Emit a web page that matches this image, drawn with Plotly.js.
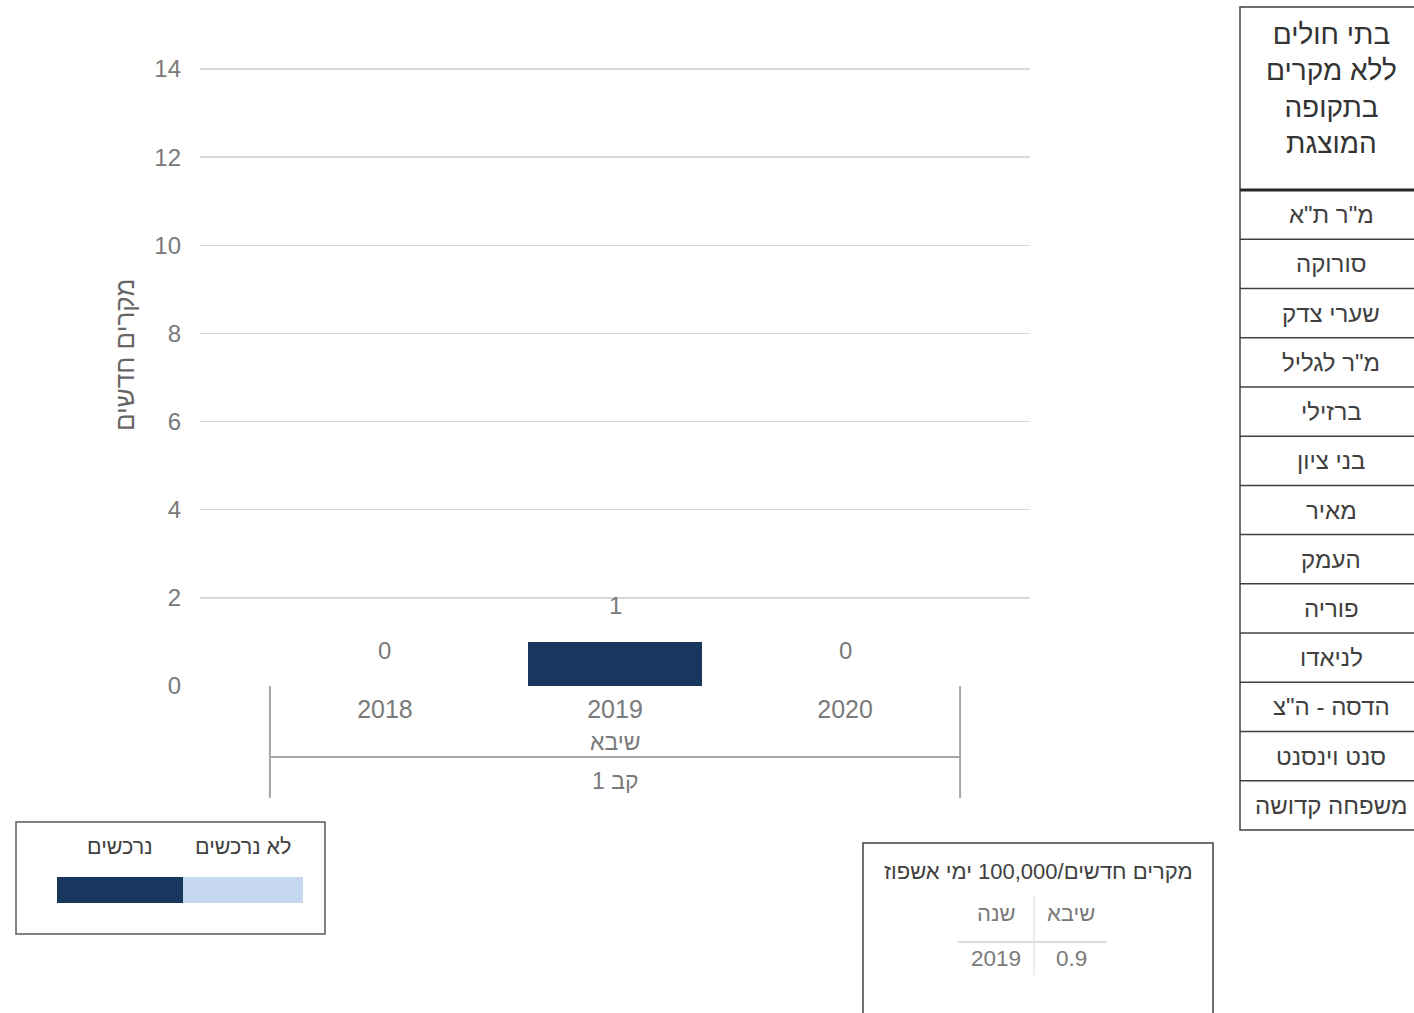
<!DOCTYPE html>
<html>
<head>
<meta charset="utf-8">
<script src="https://cdn.plot.ly/plotly-3.0.1.min.js"></script>
<style>
html,body{margin:0;padding:0;background:#fff;}
#chart{width:1414px;height:1013px;}
</style>
</head>
<body>
<div id="chart"></div>
<script>
// ---------- data ----------
const years = ['2018', '2019', '2020'];
const purchased = [0, 1, 0];          // נרכשים
const notPurchased = [0, 0, 0];       // לא נרכשים
const seriesNames = ['נרכשים', 'לא נרכשים'];
const seriesColors = ['#17375e', '#c6d9f1'];
const hospitalGroup = 'שיבא';
const outerGroup = 'קב 1';
const yTickValues = [0, 2, 4, 6, 8, 10, 12, 14];
const yTitle = 'מקרים חדשים';

const noCaseHeader = ['בתי חולים', 'ללא מקרים', 'בתקופה', 'המוצגת'];
const noCaseHospitals = ['מ"ר ת"א', 'סורוקה', 'שערי צדק', 'מ"ר לגליל', 'ברזילי', 'בני ציון',
  'מאיר', 'העמק', 'פוריה', 'לניאדו', 'הדסה - ה"צ', 'סנט וינסנט', 'משפחה קדושה'];

const rateTitle = 'מקרים חדשים/100,000 ימי אשפוז';
const rateHeaders = ['שנה', 'שיבא'];
const rateColumns = [['2019'], ['0.9']];

// ---------- helpers ----------
const W = 1414, H = 1013;
const px = x => x / W;
const py = y => 1 - y / H;
const FONT = '"Liberation Sans", Arial, "DejaVu Sans", sans-serif';
const GRAY = '#7a7a7a';

const totals = years.map((_, i) => purchased[i] + notPurchased[i]);

const traces = [
  { type: 'bar', x: years, y: purchased, name: seriesNames[0], marker: { color: seriesColors[0] }, width: 0.76, hoverinfo: 'skip' },
  { type: 'bar', x: years, y: notPurchased, name: seriesNames[1], marker: { color: seriesColors[1] }, width: 0.76, hoverinfo: 'skip' }
];

const shapes = [];
const annotations = [];

// total labels above the stacks (category index as x)
years.forEach((yr, i) => {
  annotations.push({ x: i, y: totals[i], xref: 'x', yref: 'y', text: String(totals[i]), showarrow: false,
    xanchor: 'center', yanchor: 'middle', yshift: 36, font: { family: FONT, size: 24, color: GRAY } });
});

// y axis title
annotations.push({ xref: 'paper', yref: 'paper', x: px(125), y: py(355), text: yTitle, textangle: -90, showarrow: false,
  xanchor: 'center', yanchor: 'middle', font: { family: FONT, size: 26, color: '#666' } });

// hierarchical category axis
const gLeft = -0.5, gRight = years.length - 0.5, gCenter = (years.length - 1) / 2;
[gLeft, gRight].forEach(xv => {
  shapes.push({ type: 'line', xref: 'x', yref: 'paper', x0: xv, x1: xv, y0: py(686), y1: py(798), line: { color: '#a6a6a6', width: 2 } });
});
shapes.push({ type: 'line', xref: 'x', yref: 'paper', x0: gLeft, x1: gRight, y0: py(757), y1: py(757), line: { color: '#a6a6a6', width: 2 } });
annotations.push({ xref: 'x', yref: 'paper', x: gCenter, y: py(742), text: hospitalGroup, showarrow: false, yanchor: 'middle',
  font: { family: FONT, size: 23, color: GRAY } });
annotations.push({ xref: 'x', yref: 'paper', x: gCenter, y: py(781), text: outerGroup, showarrow: false, yanchor: 'middle',
  font: { family: FONT, size: 23, color: GRAY } });

// ---------- right table: hospitals without cases ----------
const tL = 1240, tR = 1422, tTop = 7, tHead = 190, tBot = 830;
const rowH = (tBot - tHead) / noCaseHospitals.length;
shapes.push({ type: 'rect', xref: 'paper', yref: 'paper', x0: px(tL), x1: px(tR), y0: py(tTop), y1: py(tBot), line: { color: '#404040', width: 1.5 } });
shapes.push({ type: 'line', xref: 'paper', yref: 'paper', x0: px(tL), x1: px(tR), y0: py(tHead), y1: py(tHead), line: { color: '#262626', width: 3 } });
annotations.push({ xref: 'paper', yref: 'paper', x: px((tL + tR) / 2), y: py(89), text: noCaseHeader.join('<br>'), showarrow: false,
  xanchor: 'center', yanchor: 'middle', font: { family: FONT, size: 28, color: '#333' } });
noCaseHospitals.forEach((h, i) => {
  if (i > 0) {
    const yl = tHead + rowH * i;
    shapes.push({ type: 'line', xref: 'paper', yref: 'paper', x0: px(tL), x1: px(tR), y0: py(yl), y1: py(yl), line: { color: '#404040', width: 1.5 } });
  }
  annotations.push({ xref: 'paper', yref: 'paper', x: px((tL + tR) / 2), y: py(tHead + rowH * (i + 0.5)), text: h, showarrow: false,
    xanchor: 'center', yanchor: 'middle', font: { family: FONT, size: 24, color: '#404040' } });
});

// ---------- legend box ----------
shapes.push({ type: 'rect', xref: 'paper', yref: 'paper', x0: px(16), x1: px(325), y0: py(822), y1: py(934), line: { color: '#595959', width: 1.5 } });
const legSegs = [[57, 183], [183, 303]];
seriesNames.forEach((nm, i) => {
  const [a, b] = legSegs[i];
  shapes.push({ type: 'rect', xref: 'paper', yref: 'paper', x0: px(a), x1: px(b), y0: py(877), y1: py(903), line: { width: 0 }, fillcolor: seriesColors[i] });
  annotations.push({ xref: 'paper', yref: 'paper', x: px((a + b) / 2), y: py(847), text: nm, showarrow: false, xanchor: 'center', yanchor: 'middle',
    font: { family: FONT, size: 21.5, color: '#404040' } });
});

// ---------- bottom rate table ----------
shapes.push({ type: 'rect', xref: 'paper', yref: 'paper', x0: px(863), x1: px(1213), y0: py(843), y1: py(1025), line: { color: '#404040', width: 1.5 } });
annotations.push({ xref: 'paper', yref: 'paper', x: px(1038), y: py(871), text: rateTitle, showarrow: false, xanchor: 'center', yanchor: 'middle',
  font: { family: FONT, size: 22, color: '#404040' } });
const colCenters = [996, 1071];
rateHeaders.forEach((hd, c) => {
  annotations.push({ xref: 'paper', yref: 'paper', x: px(colCenters[c]), y: py(913), text: hd, showarrow: false, xanchor: 'center', yanchor: 'middle',
    font: { family: FONT, size: 22, color: GRAY } });
  rateColumns[c].forEach((v, r) => {
    annotations.push({ xref: 'paper', yref: 'paper', x: px(colCenters[c]), y: py(958 + r * 40), text: v, showarrow: false, xanchor: 'center', yanchor: 'middle',
      font: { family: FONT, size: 22.5, color: GRAY } });
  });
});
shapes.push({ type: 'line', xref: 'paper', yref: 'paper', x0: px(958), x1: px(1107), y0: py(942), y1: py(942), line: { color: '#dcdcdc', width: 2 } });
shapes.push({ type: 'line', xref: 'paper', yref: 'paper', x0: px(1034), x1: px(1034), y0: py(895), y1: py(975), line: { color: '#e4e4e4', width: 1.5 } });

const layout = {
  width: W, height: H,
  margin: { l: 0, r: 0, t: 0, b: 0 },
  paper_bgcolor: '#fff', plot_bgcolor: '#fff',
  barmode: 'stack',
  showlegend: false,
  font: { family: FONT },
  xaxis: {
    domain: [px(200), px(1030)],
    type: 'category',
    categoryarray: years,
    range: [-0.804, years.length - 1 + 0.804],
    showgrid: false, zeroline: false, showline: false,
    ticks: '', ticklabelstandoff: 6,
    tickfont: { family: FONT, size: 25, color: GRAY }
  },
  yaxis: {
    domain: [py(686), py(66.8)],
    range: [0, 14.05],
    tickvals: yTickValues,
    showgrid: true, gridcolor: '#d9d9d9', gridwidth: 1.5,
    zeroline: false, showline: false, ticks: '',
    ticklabelstandoff: 18,
    tickfont: { family: FONT, size: 24, color: GRAY }
  },
  shapes: shapes,
  annotations: annotations
};

Plotly.newPlot('chart', traces, layout, { staticPlot: true, displayModeBar: false });
</script>
</body>
</html>
